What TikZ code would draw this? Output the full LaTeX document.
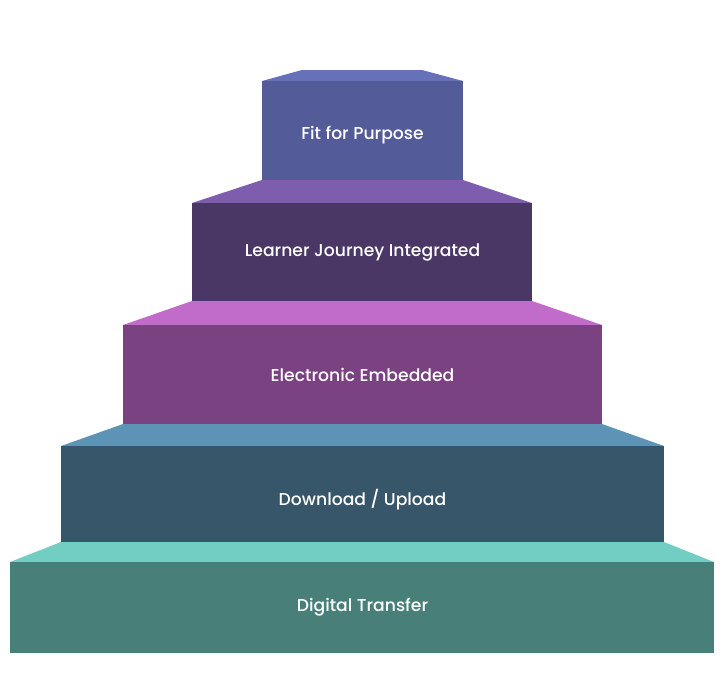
\documentclass[tikz,border=0pt]{standalone}
\usepackage{fontspec}
\setmainfont{Poppins}
\newfontfamily\pmed{Poppins Medium}
\definecolor{topA}{HTML}{6671BA}\definecolor{frontA}{HTML}{535C98}
\definecolor{topB}{HTML}{7E5DAF}\definecolor{frontB}{HTML}{4A3766}
\definecolor{topC}{HTML}{C16BCB}\definecolor{frontC}{HTML}{7A4280}
\definecolor{topD}{HTML}{5D94B6}\definecolor{frontD}{HTML}{37566A}
\definecolor{topE}{HTML}{72CDC3}\definecolor{frontE}{HTML}{497F79}
\tikzset{
  lbl/.style={text=white, font=\pmed\fontsize{17.2}{20}\selectfont, inner sep=0pt, anchor=base}
}
\begin{document}
\begin{tikzpicture}[x=1pt,y=-1pt]
\useasboundingbox (0,0) rectangle (728,675);
% level 1
\fill[topA] (302,70) -- (422,70) -- (463,81) -- (262,81) -- cycle;
\fill[frontA] (262,81) rectangle (463,180);
% level 2
\fill[topB] (262,180) -- (463,180) -- (532,203) -- (192,203) -- cycle;
\fill[frontB] (192,203) rectangle (532,301);
% level 3
\fill[topC] (192,301) -- (532,301) -- (602,325) -- (123,325) -- cycle;
\fill[frontC] (123,325) rectangle (602,424);
% level 4
\fill[topD] (123,424) -- (602,424) -- (664,446) -- (61,446) -- cycle;
\fill[frontD] (61,446) rectangle (664,542);
% level 5
\fill[topE] (61,542) -- (664,542) -- (714,562) -- (10,562) -- cycle;
\fill[frontE] (10,562) rectangle (714,653);
% labels
\node[lbl] (l1) at (362.5,139) {Fit for Purpose};
\node[lbl] (l2) at (362.5,256) {Learner Journey Integrated};
\node[lbl] (l3) at (362.5,381.5) {Electronic Embedded};
\node[lbl] (l4) at (362.5,505) {Download / Upload};
\node[lbl] (l5) at (362.5,611.5) {Digital Transfer};
\end{tikzpicture}
\end{document}
